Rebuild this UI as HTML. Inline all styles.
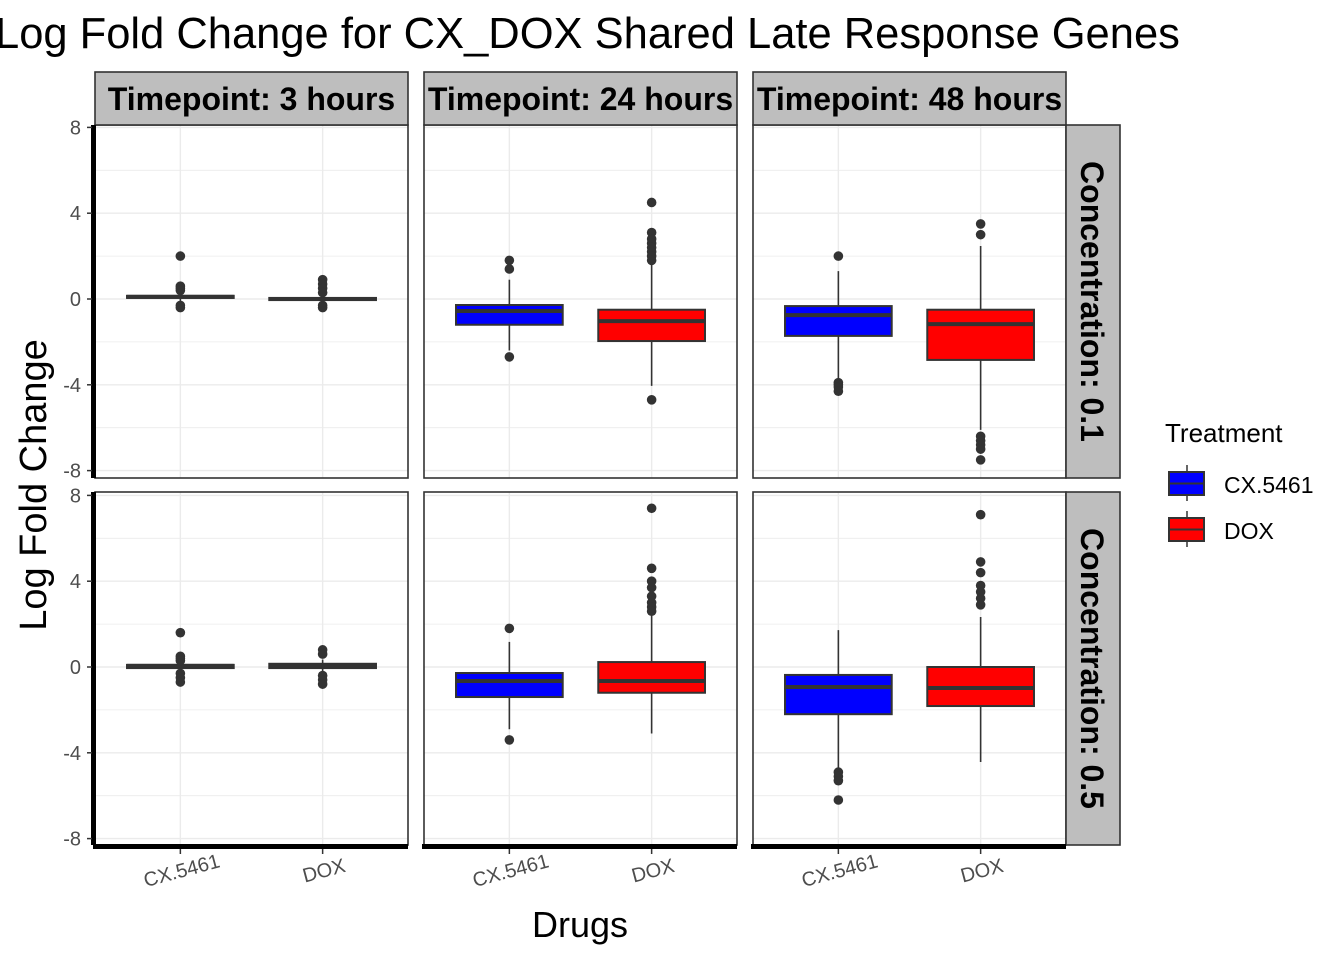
<!DOCTYPE html>
<html><head><meta charset="utf-8"><style>
body{margin:0;background:#fff;}
svg{display:block;font-family:"Liberation Sans",Arial,sans-serif;}
</style></head><body>
<svg id="chart" width="1344" height="960" viewBox="0 0 1344 960">
<text x="-5" y="48" font-size="43.5" fill="#000">Log Fold Change for CX_DOX Shared Late Response Genes</text>
<text x="580" y="937" font-size="36" text-anchor="middle" fill="#000">Drugs</text>
<text transform="translate(46,485) rotate(-90)" font-size="38" text-anchor="middle" fill="#000">Log Fold Change</text>
<g>
<text x="1165" y="442" font-size="26" fill="#000">Treatment</text>
<g>
<line x1="1187" y1="465" x2="1187" y2="501" stroke="#333" stroke-width="1.5"/>
<rect x="1169" y="472" width="35" height="23" fill="#0000ff" stroke="#333" stroke-width="2"/>
<line x1="1169" y1="483.5" x2="1204" y2="483.5" stroke="#333" stroke-width="2"/>
<text x="1224" y="493" font-size="23" fill="#000">CX.5461</text></g>
<g>
<line x1="1187" y1="511" x2="1187" y2="547" stroke="#333" stroke-width="1.5"/>
<rect x="1169" y="518" width="35" height="23" fill="#ff0000" stroke="#333" stroke-width="2"/>
<line x1="1169" y1="529.5" x2="1204" y2="529.5" stroke="#333" stroke-width="2"/>
<text x="1224" y="539" font-size="23" fill="#000">DOX</text></g>
</g>
<g id="panels"></g>
</svg>
<script>
const categories = ["CX.5461","DOX"];
const timepoints = ["Timepoint: 3 hours","Timepoint: 24 hours","Timepoint: 48 hours"];
const concentrations = ["Concentration: 0.1","Concentration: 0.5"];
const yTicks = [8,4,0,-4,-8];
// each: [whiskerLow, q1, median, q3, whiskerHigh]
const stats01_3h = [[-0.1,0.05,0.1,0.15,0.3],[-0.15,-0.05,0,0.05,0.15]];
const outliers01_3h = [[2.0,0.6,0.5,0.4,-0.3,-0.4],[0.9,0.7,0.5,0.3,-0.3,-0.4]];
const stats01_24h = [[-2.4,-1.2,-0.56,-0.28,0.9],[-4.05,-1.96,-1.03,-0.5,1.63]];
const outliers01_24h = [[1.8,1.4,-2.7],[4.5,3.1,2.8,2.6,2.4,2.2,2.0,1.8,-4.7]];
const stats01_48h = [[-3.7,-1.72,-0.75,-0.33,1.3],[-6.1,-2.84,-1.17,-0.5,2.47]];
const outliers01_48h = [[2.0,-3.9,-4.0,-4.1,-4.3],[3.5,3.0,-6.4,-6.6,-6.8,-7.0,-7.5]];
const stats05_3h = [[-0.2,-0.05,0.05,0.1,0.25],[-0.25,-0.05,0.05,0.15,0.35]];
const outliers05_3h = [[1.6,0.5,0.4,0.3,-0.3,-0.5,-0.7],[0.8,0.6,-0.4,-0.6,-0.8]];
const stats05_24h = [[-2.9,-1.4,-0.65,-0.28,1.17],[-3.1,-1.2,-0.65,0.23,2.47]];
const outliers05_24h = [[1.8,-3.4],[7.4,4.6,4.0,3.7,3.3,3.0,2.8,2.6]];
const stats05_48h = [[-4.7,-2.2,-0.93,-0.37,1.72],[-4.43,-1.82,-0.98,0,2.33]];
const outliers05_48h = [[-4.9,-5.1,-5.3,-6.2],[7.1,4.9,4.4,3.8,3.5,3.2,2.9]];

const statsGrid = [[stats01_3h,stats01_24h,stats01_48h],[stats05_3h,stats05_24h,stats05_48h]];
const outGrid = [[outliers01_3h,outliers01_24h,outliers01_48h],[outliers05_3h,outliers05_24h,outliers05_48h]];
const fills = ["#0000ff","#ff0000"];
const NS="http://www.w3.org/2000/svg";
const root=document.getElementById("panels");
function mk(tag,attrs,parent){const e=document.createElementNS(NS,tag);for(const k in attrs)e.setAttribute(k,attrs[k]);(parent||root).appendChild(e);return e;}
const colX=[95,424,753], W=313, rowY=[125,492], H=353;
const zeroY=[299,667], PPU=21.45;
function yScale(r,v){return zeroY[r]-v*PPU;}
function xScale(c,i){return colX[c]+(0.6+i)*(W/2.2);}
const bw=0.75*W/2.2;
for(let r=0;r<2;r++){for(let c=0;c<3;c++){
  const g=mk("g",{});
  
  
  mk("rect",{x:colX[c],y:rowY[r],width:W,height:H,fill:"#fff"},g);
  for(let v=-8;v<=8;v+=2){const y=yScale(r,v);if(y<rowY[r]||y>rowY[r]+H)continue;
    mk("line",{x1:colX[c],x2:colX[c]+W,y1:y,y2:y,stroke:"#ebebeb","stroke-width":v%4===0?1.4:0.8},g);}
  for(let i=0;i<2;i++){const x=xScale(c,i);mk("line",{x1:x,x2:x,y1:rowY[r],y2:rowY[r]+H,stroke:"#ebebeb","stroke-width":1.4},g);}
  for(let i=0;i<2;i++){
    const s=statsGrid[r][c][i], x=xScale(c,i);
    const bg=mk("g",{},g);
    
    
    mk("line",{x1:x,x2:x,y1:yScale(r,s[0]),y2:yScale(r,s[4]),stroke:"#333","stroke-width":1.6},bg);
    mk("rect",{x:x-bw/2,y:yScale(r,s[3]),width:bw,height:Math.max(1,yScale(r,s[1])-yScale(r,s[3])),fill:fills[i],stroke:"#333","stroke-width":2},bg);
    mk("line",{x1:x-bw/2,x2:x+bw/2,y1:yScale(r,s[2]),y2:yScale(r,s[2]),stroke:"#333","stroke-width":4},bg);
    for(const o of outGrid[r][c][i]){
      const p=mk("circle",{cx:x,cy:yScale(r,o),r:4.8,fill:"#333"},bg);
      
      
    }
  }
  mk("rect",{x:colX[c],y:rowY[r],width:W,height:H,fill:"none",stroke:"#333","stroke-width":1.6},g);
}}
for(let c=0;c<3;c++){
  const s=mk("g",{});
  
  
  mk("rect",{x:colX[c],y:72,width:W,height:53,fill:"#bebebe",stroke:"#333","stroke-width":1.6},s);
  const t=mk("text",{x:colX[c]+W/2,y:110,"font-size":32,"font-weight":"bold","text-anchor":"middle",fill:"#000"},s);
  t.textContent=timepoints[c];
}
for(let r=0;r<2;r++){
  const s=mk("g",{});
  
  
  mk("rect",{x:1066,y:rowY[r],width:54,height:H,fill:"#bebebe",stroke:"#333","stroke-width":1.6},s);
  const cy=rowY[r]+H/2;
  const t=mk("text",{transform:"translate(1081,"+cy+") rotate(90)","font-size":32,"font-weight":"bold","text-anchor":"middle",fill:"#000"},s);
  t.textContent=concentrations[r];
}
for(let r=0;r<2;r++){
  const ax=mk("g",{});
  
  
  mk("line",{x1:93.5,x2:93.5,y1:rowY[r],y2:rowY[r]+H,stroke:"#000","stroke-width":5},ax);
  for(const v of yTicks){const y=yScale(r,v);
    mk("line",{x1:87,x2:92,y1:y,y2:y,stroke:"#333","stroke-width":1.5},ax);
    const t=mk("text",{x:81,y:y+7,"font-size":20,"text-anchor":"end",fill:"#4d4d4d"},ax);t.textContent=v;}
}
for(let c=0;c<3;c++){
  const ax=mk("g",{});
  
  
  mk("line",{x1:colX[c]-2,x2:colX[c]+W,y1:846.5,y2:846.5,stroke:"#000","stroke-width":5},ax);
  for(let i=0;i<2;i++){const x=xScale(c,i);
    mk("line",{x1:x,x2:x,y1:849,y2:854,stroke:"#333","stroke-width":1.5},ax);
    const t=mk("text",{transform:"translate("+(x+3)+",877) rotate(-15)","font-size":20,"text-anchor":"middle",fill:"#4d4d4d"},ax);t.textContent=categories[i];}
}
</script>
</body></html>
